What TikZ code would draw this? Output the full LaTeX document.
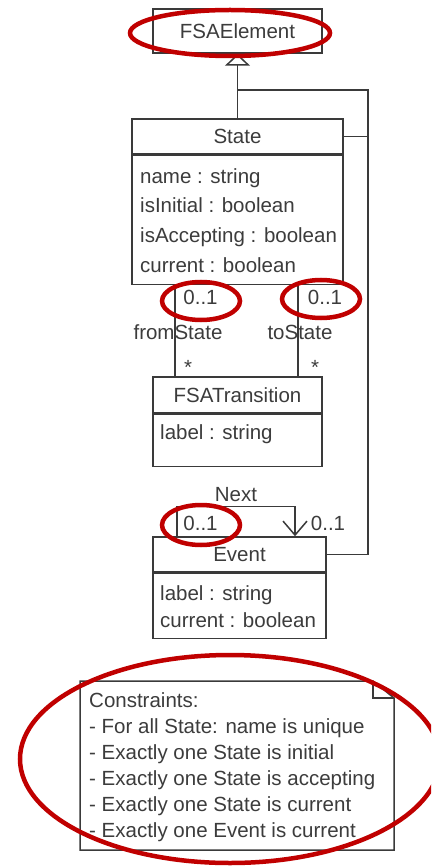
\documentclass[tikz,border=0pt]{standalone}
\usepackage{fontspec}
\setmainfont{Liberation Sans}
\usepackage{xcolor}
\usepackage{tikz}
\usetikzlibrary{positioning, arrows.meta}

\definecolor{umlgray}{HTML}{3A3A3A}
\definecolor{umltext}{HTML}{3C3C3C}
\definecolor{marker}{HTML}{C00000}

\begin{document}
\begin{tikzpicture}[x=1pt, y=-1pt,
  umlline/.style={draw=umlgray, line width=1.5pt},
  classbox/.style={umlline, fill=white, inner sep=0pt, text=umltext,
    font=\fontsize{20.5}{24}\selectfont},
  attrs/.style={inner sep=0pt, anchor=west, align=left, text=umltext},
  lbl/.style={inner sep=0pt, text=umltext, font=\fontsize{20.5}{24}\selectfont},
  highlight/.style={draw=marker, line width=4.5pt}]
\useasboundingbox (0,0) rectangle (431,866);
\clip (0,0) rectangle (431,866);

% classes
\node[classbox, minimum width=169, minimum height=44] (fsaelem) at (237.5,31) {FSAElement};

\node[classbox, minimum width=211, minimum height=35] (stateH) at (237.5,136.5) {State};
\node[classbox, minimum width=211, minimum height=129, below=0pt of stateH] (stateB) {};
\node[attrs, font=\fontsize{20.5}{29.7}\selectfont] (stateattr) at (140,220.5)
  {name : string\\ isInitial : boolean\\ isAccepting : boolean\\ current : boolean};

\node[classbox, minimum width=169, minimum height=36] (transH) at (237.5,395) {FSATransition};
\node[classbox, minimum width=169, minimum height=52, below=0pt of transH] (transB) {};
\node[attrs, font=\fontsize{20.5}{24}\selectfont] (transattr) at (160,434) {label : string};

\node[classbox, minimum width=173, minimum height=35] (eventH) at (239.5,554.5) {Event};
\node[classbox, minimum width=173, minimum height=65, below=0pt of eventH] (eventB) {};
\node[attrs, font=\fontsize{20.5}{27}\selectfont] (eventattr) at (160,606.5)
  {label : string\\ current : boolean};

% generalization
\coordinate (genjoin) at (237.5,90);
\coordinate (rail) at (368,90);
\draw[umlline, -{Triangle[open, length=12pt, width=25pt, fill=white]}] (stateH.north) -- (fsaelem.south);
\draw[umlline] (eventH.east) -| (rail) -- (genjoin);
\draw[umlline] (stateH.east) -- (stateH.east -| rail);

% associations State -- FSATransition
\coordinate (fromx) at (175,0);
\coordinate (tox) at (298,0);
\draw[umlline] (stateB.south -| fromx) -- (transH.north -| fromx);
\draw[umlline] (stateB.south -| tox) -- (transH.north -| tox);
\node[lbl] (frommult) at (200.5,297) {0..1};
\node[lbl] (tomult) at (325,297) {0..1};
\node[lbl] (fromrole) at (178,332) {fromState};
\node[lbl] (torole) at (300,332) {toState};
\node[lbl, anchor=base] (fromstar) at (188,374) {*};
\node[lbl, anchor=base] (tostar) at (315,374) {*};

% self association on Event
\draw[umlline, -{Straight Barb[length=14pt, width=24pt]}]
  ([xshift=-62.5pt]eventH.north) -- ++(0,-30) -| ([xshift=55.5pt]eventH.north);
\node[lbl] (nextrole) at (236,495) {Next};
\node[lbl] (nextsrc) at (200.5,523) {0..1};
\node[lbl] (nexttgt) at (328,523) {0..1};

% constraints note
\draw[umlline, fill=white] (80,681) -- (373,681) -- (394,698) -- (394,850) -- (80,850) -- cycle;
\draw[umlline] (373,681) -- (373,698) -- (394,698);
\node[attrs, font=\fontsize{20.5}{26}\selectfont] (constraints) at (89,767)
  {Constraints:\\
   - For all State: name is unique\\
   - Exactly one State is initial\\
   - Exactly one State is accepting\\
   - Exactly one State is current\\
   - Exactly one Event is current};

% red markers
\draw[highlight] (230,33) ellipse [x radius=100pt, y radius=23pt];
\draw[highlight] (201,301) ellipse [x radius=39pt, y radius=19pt];
\draw[highlight] (321,299) ellipse [x radius=39pt, y radius=19pt];
\draw[highlight] (201,525) ellipse [x radius=39pt, y radius=20pt];
\draw[highlight] (230,759) ellipse [x radius=210pt, y radius=104pt];
\end{tikzpicture}
\end{document}
